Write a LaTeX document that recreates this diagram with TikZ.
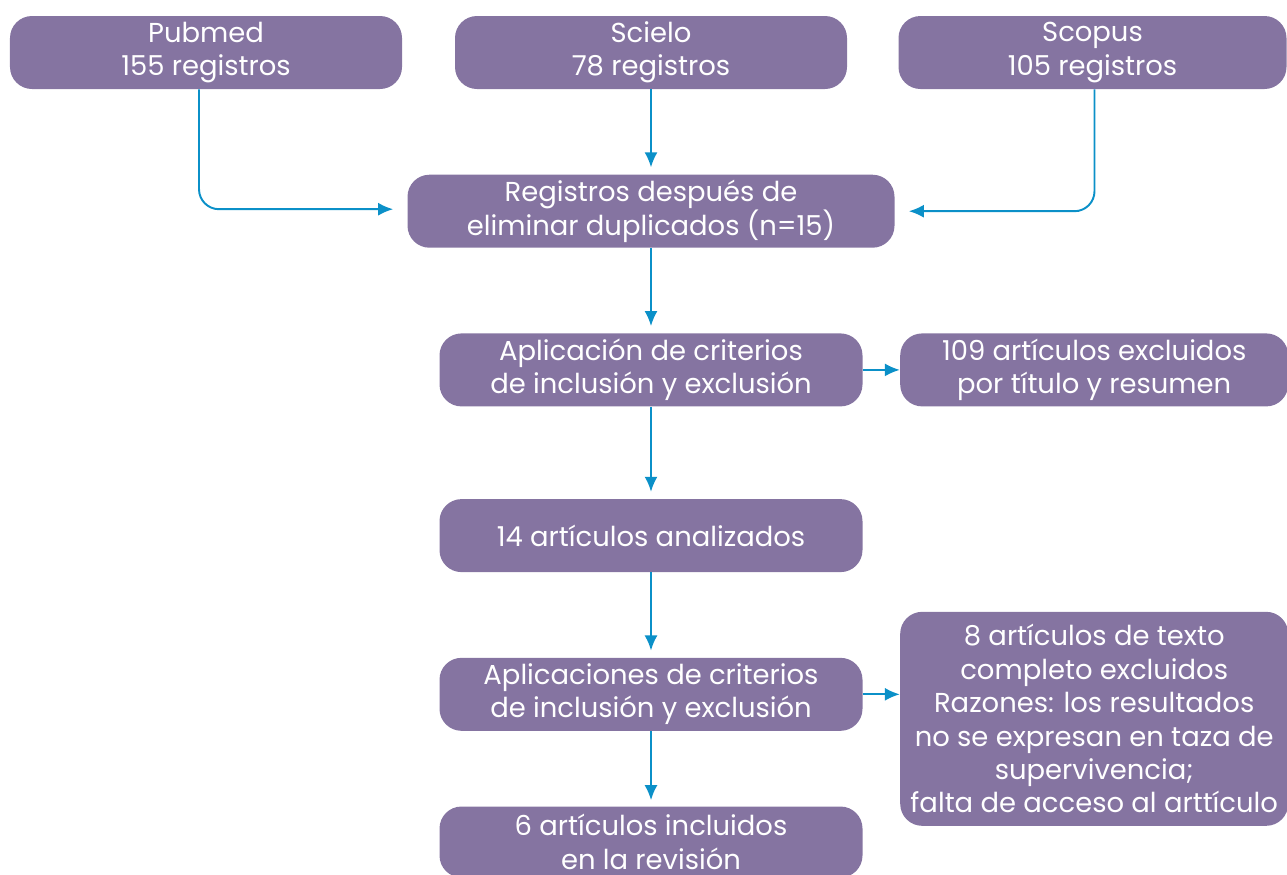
\documentclass[tikz,border=0pt]{standalone}
\usepackage{fontspec}
\setmainfont{Poppins}
\usetikzlibrary{arrows.meta,calc,positioning}
\definecolor{boxpurple}{HTML}{8574A1}
\definecolor{linkblue}{HTML}{0B90C8}

\begin{document}
\begin{tikzpicture}[every node/.style={block},
  block/.style={fill=boxpurple,text=white,rounded corners=0.44cm,align=center,
    minimum height=1.46cm,inner sep=2pt,font=\fontsize{15.6}{19}\selectfont},
  link/.style={draw=linkblue,line width=1.1pt,-{Latex[length=0.3cm,width=0.26cm]}}]

        \useasboundingbox (0,0) rectangle (25.74,-17.48);

        \node[minimum width=7.84cm] (pubmed) at (4.12,-1.05) {Pubmed\\155 registros};
        \node[minimum width=7.84cm] (scielo) at (13.02,-1.05) {Scielo\\78 registros};
        \node[minimum width=7.76cm] (scopus) at (21.85,-1.05) {Scopus\\105 registros};

        \node[minimum width=9.74cm,below=1.7cm of scielo] (dup) {Registros después de\\eliminar duplicados (n=15)};
        \node[minimum width=8.46cm,below=1.7cm of dup] (crit) {Aplicación de criterios\\de inclusión y exclusión};
        \node[minimum width=7.76cm,right=0.74cm of crit] (excl) {109 artículos excluidos\\por título y resumen};
        \node[minimum width=8.46cm,below=1.84cm of crit] (anal) {14 artículos analizados};
        \node[minimum width=8.46cm,below=1.7cm of anal] (crit2) {Aplicaciones de criterios\\de inclusión y exclusión};
        \node[minimum width=7.76cm,minimum height=4.28cm,right=0.74cm of crit2,yshift=-0.49cm] (excl2)
          {8 artículos de texto\\completo excluidos\\Razones: los resultados\\no se expresan en taza de\\supervivencia;\\falta de acceso al arttículo};
        \node[minimum width=8.46cm,minimum height=1.42cm,below=1.5cm of crit2] (incl) {6 artículos incluidos\\en la revisión};

        \draw[link,rounded corners=0.4cm,shorten >=0.28cm] ([xshift=-0.14cm]pubmed.south) |- ([yshift=0.04cm]dup.west);
        \draw[link,shorten >=0.14cm] (scielo) -- (dup);
        \draw[link,rounded corners=0.4cm,shorten >=0.28cm] ([xshift=0.04cm]scopus.south) |- (dup.east);
        \draw[link,shorten >=0.14cm] (dup) -- (crit);
        \draw[link] (crit) -- (excl);
        \draw[link,shorten >=0.14cm] (crit) -- (anal);
        \draw[link,shorten >=0.14cm] (anal) -- (crit2);
        \draw[link] (crit2) -- (crit2 -| excl2.west);
        \draw[link,shorten >=0.12cm] (crit2) -- (incl);
      \end{tikzpicture}
\end{document}
